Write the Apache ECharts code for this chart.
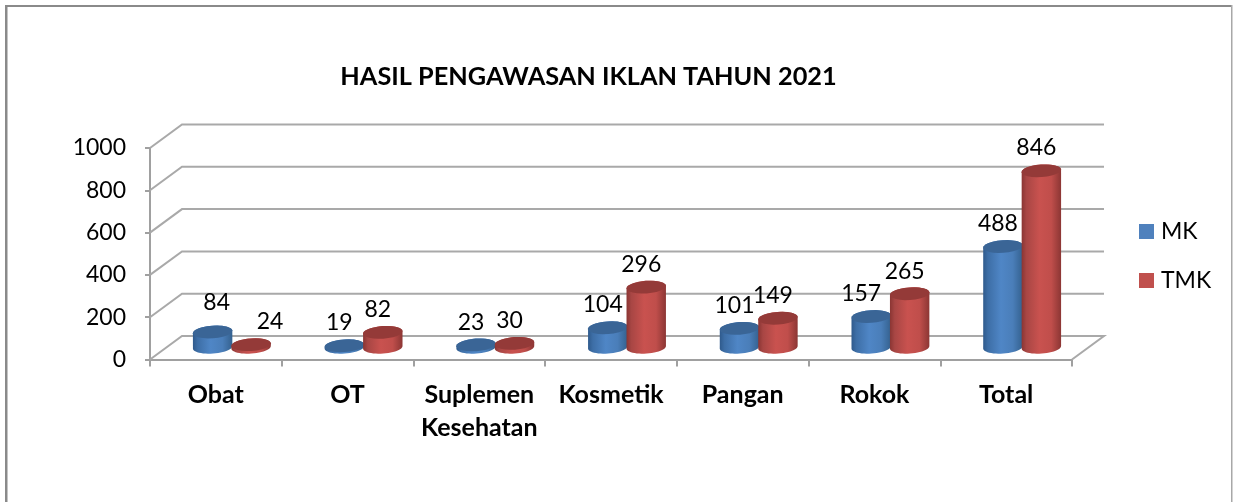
<!DOCTYPE html>
<html><head><meta charset="utf-8">
<style>html,body{margin:0;padding:0;background:#fff}#c{width:1238px;height:502px}</style>
<script src="https://cdn.jsdelivr.net/npm/echarts@6/dist/echarts.min.js"></script>
</head><body><div id="c"></div>
<script>
const categories = ['Obat','OT','Suplemen\nKesehatan','Kosmetik','Pangan','Rokok','Total'];
const mkValues = [84,19,23,104,101,157,488];
const tmkValues = [24,82,30,296,149,265,846];
const yTicks = [0,200,400,600,800,1000];
const mkLabelNudge = [[9,-7],[0,0],[0,0],[0,0],[0,0],[-5,0],[0,0]];
const tmkLabelNudge = [[24,0],[0,0],[0,0],[0,0],[0,0],[0,1],[0,0]];

const FONT = 'Lato';
const DX = 32, DY = -23.5, RY = 6.3, TILT = -4 * Math.PI / 180;

function arc(cx, cy, a, from, to) {
  const pts = [], n = 24;
  for (let k = 0; k <= n; k++) {
    const t = from + (to - from) * k / n;
    const x = a * Math.cos(t), y = RY * Math.sin(t);
    pts.push([cx + x * Math.cos(TILT) - y * Math.sin(TILT), cy + x * Math.sin(TILT) + y * Math.cos(TILT)]);
  }
  return pts;
}
function grad(stops) {
  return { type:'linear', x:0, y:0, x2:1, y2:0, colorStops: stops.map((c,i)=>({offset:c[0], color:c[1]})) };
}
const BLUE = { body:[[0,'#2f5a8c'],[0.12,'#3d6ea6'],[0.45,'#4f86c6'],[0.75,'#4a7eb9'],[1,'#34618f']], top:'#3a6596' };
const RED  = { body:[[0,'#8a3533'],[0.12,'#a84644'],[0.45,'#c9524f'],[0.75,'#c04e4b'],[1,'#8c3634']], top:'#943a38' };

function cylinder(side, pal, nudges) {
  return function (params, api) {
    const i = api.value(0), v = api.value(1);
    const band = api.size([1,0])[0];
    const a = band * 0.15;
    const base = api.coord([i,0]), topP = api.coord([i,v]);
    const cx = base[0] + DX/2 + side * band * 0.146;
    const y0 = base[1] + DY/2 - 0.5, y1 = topP[1] + DY/2 + 2;
    const bodyPts = arc(cx, y0, a, 0, Math.PI).concat(arc(cx, Math.min(y1,y0), a, Math.PI, 2*Math.PI));
    const n = nudges[i];
    const kids = [
      { type:'polygon', shape:{points:bodyPts}, style:{fill:grad(pal.body)} },
      { type:'polygon', shape:{points:arc(cx, y1, a, 0, 2*Math.PI)}, style:{fill:pal.top} },
      { type:'text', z2:50, style:{ text:String(v), x:cx - 5 + n[0], y:y1 - RY - 16.5 + n[1], fill:'#000',
          font:'23px ' + FONT, align:'center', verticalAlign:'middle' } }
    ];
    return { type:'group', children:kids };
  };
}
function walls(params, api) {
  const v = api.value(1);
  const y = api.coord([0,v])[1];
  const x0 = params.coordSys.x, w = params.coordSys.width;
  const pts = [[x0,y],[x0+DX,y+DY],[x0+w+DX,y+DY]];
  if (v === 0) pts.push([x0+w,y]);
  return { type:'polyline', shape:{points:pts}, style:{stroke:'#a9a9a9', lineWidth:2, fill:null} };
}
const chart = echarts.init(document.getElementById('c'), null, {renderer:'canvas'});
chart.setOption({
  animation:false,
  backgroundColor:'#fff',
  title:{ text:'HASIL PENGAWASAN IKLAN TAHUN 2021', left:583.5, top:59, textAlign:'center',
    textStyle:{ fontFamily:FONT, fontWeight:'bold', fontSize:25.3, color:'#000' } },
  legend:{ orient:'vertical', left:1139, top:220, padding:0, itemWidth:15, itemHeight:15, itemGap:26, icon:'rect',
    data:['MK','TMK'], textStyle:{ fontFamily:FONT, fontSize:23, color:'#000', padding:[0,0,0,2] } },
  grid:{ left:150, right:166, top:148, bottom:142.5 },
  xAxis:{ type:'category', data:categories,
    axisLine:{ lineStyle:{ color:'#a0a0a0', width:2 } },
    axisTick:{ show:true, length:7, alignWithLabel:false, lineStyle:{ color:'#a0a0a0', width:2 } },
    axisLabel:{ fontFamily:FONT, fontWeight:'bold', fontSize:25, color:'#000', margin:19, lineHeight:33, interval:0 } },
  yAxis:{ type:'value', min:0, max:1000, interval:200,
    axisLine:{ show:true, lineStyle:{ color:'#a0a0a0', width:2 } },
    axisTick:{ show:true, length:5, lineStyle:{ color:'#a0a0a0', width:2 } },
    splitLine:{ show:false },
    axisLabel:{ fontFamily:FONT, fontSize:23, color:'#000', margin:24, padding:[6,0,0,0], formatter:(v)=>String(v) } },
  graphic:[
    { type:'rect', shape:{x:5,y:5,width:2.5,height:497}, style:{fill:'#8a8a8a'}, silent:true },
    { type:'rect', shape:{x:5,y:5,width:1227,height:2}, style:{fill:'#8a8a8a'}, silent:true },
    { type:'rect', shape:{x:1231,y:5,width:1.5,height:497}, style:{fill:'#a8a8a8'}, silent:true }
  ],
  series:[
    { type:'custom', name:'walls', silent:true, z:1, renderItem:walls, encode:{x:0,y:1},
      data:yTicks.map(v=>[0,v]) },
    { type:'custom', name:'MK', z:3, renderItem:cylinder(-1,BLUE,mkLabelNudge), encode:{x:0,y:1},
      itemStyle:{color:'#4f81bd'}, data:mkValues.map((v,i)=>[i,v]) },
    { type:'custom', name:'TMK', z:4, renderItem:cylinder(1,RED,tmkLabelNudge), encode:{x:0,y:1},
      itemStyle:{color:'#c0504d'}, data:tmkValues.map((v,i)=>[i,v]) }
  ]
});
</script></body></html>
